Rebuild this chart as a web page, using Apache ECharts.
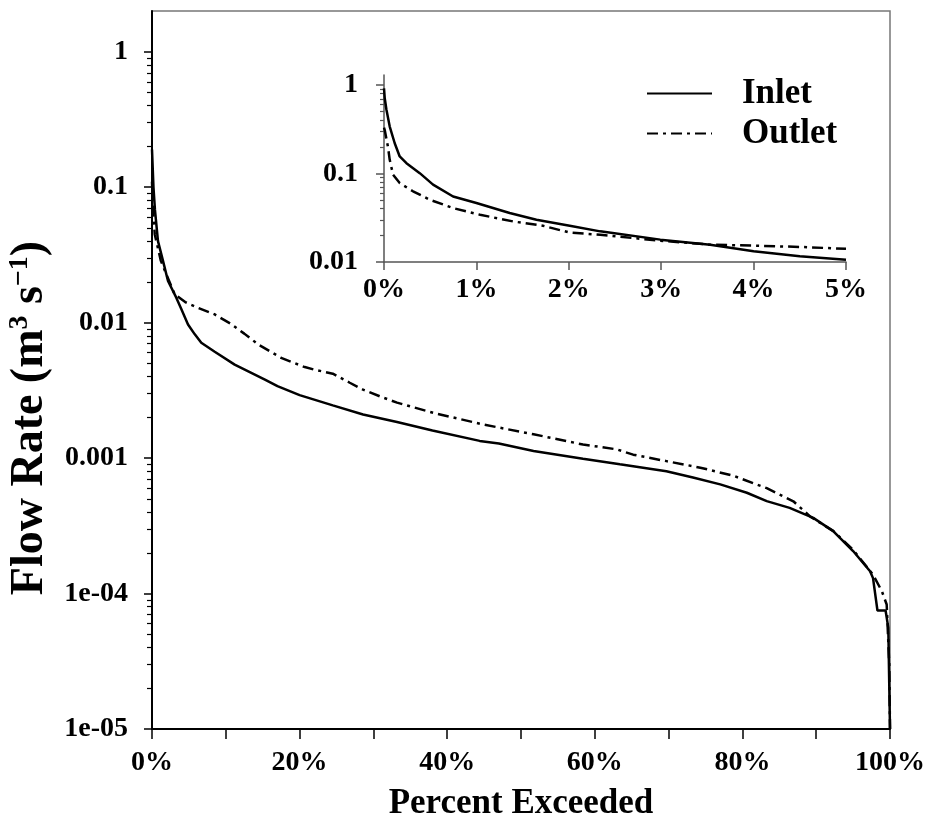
<!DOCTYPE html>
<html>
<head>
<meta charset="utf-8">
<script src="https://cdn.jsdelivr.net/npm/echarts@6/dist/echarts.min.js"></script>
<style>html,body{margin:0;padding:0;background:#fff;}#c{width:930px;height:823px;}</style>
</head>
<body>
<div id="c"></div>
<script>
// ---- Main chart data (percent exceeded, flow rate m3/s) ----
const inletPct = [0, 0.2, 0.4, 0.81, 1.49, 2.17, 3.29, 3.97, 4.88, 5.8, 6.68, 8.5, 11.2, 15.3, 17, 20, 24.5, 28.6, 33.2, 38, 44.4, 47, 51.7, 58.4, 63.4, 69.7, 73.3, 77, 80.6, 83.3, 86.4, 89.6, 92.3, 95, 97.3, 97.7, 98.3, 99.4, 99.77, 99.9, 100];
const inletFlow = [0.19, 0.1, 0.068, 0.040, 0.0286, 0.0203, 0.0153, 0.0126, 0.0097, 0.0082, 0.0071, 0.0061, 0.0049, 0.0038, 0.0034, 0.00292, 0.00245, 0.0021, 0.00185, 0.0016, 0.00134, 0.00128, 0.00113, 0.00099, 0.0009, 0.0008, 0.00072, 0.00064, 0.000555, 0.000481, 0.000429, 0.000362, 0.000289, 0.000206, 0.000146, 0.00013, 0.000075, 0.000075, 0.000056, 0.000021, 0.00001];
const outletPct = [0, 0.14, 0.37, 1.2, 1.94, 3.07, 4.5, 6.2, 8.5, 10.7, 12.5, 14.4, 17.5, 20.7, 22, 24.5, 26.8, 28.6, 31.3, 33.2, 38.1, 44.9, 51.7, 58.4, 63, 65.2, 69.7, 74.3, 78.8, 83.3, 86.9, 89.2, 92.3, 95, 97.7, 98.9, 99.55, 99.9, 100];
const outletFlow = [0.11, 0.07, 0.045, 0.0286, 0.0228, 0.0162, 0.0142, 0.0129, 0.0115, 0.0098, 0.0083, 0.0069, 0.0055, 0.0047, 0.0045, 0.0042, 0.0036, 0.0032, 0.0028, 0.00257, 0.00216, 0.00177, 0.0015, 0.00126, 0.00116, 0.00106, 0.00095, 0.00085, 0.00074, 0.0006, 0.00048, 0.00037, 0.00029, 0.00021, 0.000138, 0.000104, 0.000083, 0.00003, 0.00001];

// ---- Inset data (0-5 %) ----
const insetInletPct = [0, 0.008, 0.026, 0.062, 0.116, 0.17, 0.243, 0.387, 0.531, 0.748, 1.0, 1.36, 1.65, 2.01, 2.34, 2.99, 3.53, 4.0, 4.5, 5.0];
const insetInletFlow = [0.92, 0.71, 0.53, 0.34, 0.22, 0.156, 0.131, 0.101, 0.075, 0.055, 0.0464, 0.0358, 0.0301, 0.0257, 0.0222, 0.0179, 0.0157, 0.0132, 0.0116, 0.0106];
const insetOutletPct = [0, 0.008, 0.043, 0.062, 0.098, 0.17, 0.314, 0.495, 0.748, 1.04, 1.4, 1.72, 2.01, 2.34, 2.99, 3.53, 4.0, 4.5, 5.0];
const insetOutletFlow = [0.33, 0.31, 0.2, 0.143, 0.097, 0.078, 0.063, 0.0506, 0.0407, 0.0342, 0.0287, 0.0257, 0.0215, 0.0203, 0.0174, 0.0157, 0.0153, 0.0148, 0.0141];

// ---- Tick labels ----
const mainYTicks = [1e-5, 1e-4, 1e-3, 1e-2, 1e-1, 1];
const mainYLabels = ['1e-05', '1e-04', '0.001', '0.01', '0.1', '1'];
const insetYTicks = [0.01, 0.1, 1];
const insetYLabels = ['0.01', '0.1', '1'];
const minorMultipliers = [2, 3, 4, 5, 6, 7, 8, 9];

const mainMinor = [];
mainYTicks.slice(0, 5).forEach(d => minorMultipliers.forEach(m => mainMinor.push(+(m * d).toPrecision(3))));
const insetMinor = [];
insetYTicks.slice(0, 2).forEach(d => minorMultipliers.forEach(m => insetMinor.push(+(m * d).toPrecision(3))));

const zip = (a, b) => a.map((v, i) => [v, b[i]]);
const FONT = 'Liberation Serif';
const lab = (size) => ({fontFamily: FONT, fontWeight: 'bold', fontSize: size, color: '#000'});
function labelFor(ticks, labels) {
  return v => {
    for (let i = 0; i < ticks.length; i++) {
      if (Math.abs(Math.log10(v) - Math.log10(ticks[i])) < 1e-6) return labels[i];
    }
    return '';
  };
}
const dashDot = [11, 5, 3, 5];

const chart = echarts.init(document.getElementById('c'), null, {renderer: 'canvas'});
chart.setOption({
  animation: false,
  backgroundColor: '#fff',
  grid: [
    {left: 152, top: 11, width: 738, height: 718, outerBoundsMode: 'none', containLabel: false, show: true, borderColor: '#777', borderWidth: 1.5, backgroundColor: 'transparent'},
    {left: 384, top: 75, width: 462, height: 187, outerBoundsMode: 'none', containLabel: false}
  ],
  legend: {
    data: ['Inlet', 'Outlet'],
    orient: 'vertical',
    left: 641, top: 71,
    itemWidth: 65, itemHeight: 14, itemGap: 5,
    selectedMode: false,
    itemStyle: {opacity: 0},
    textStyle: Object.assign(lab(35), {padding: [0, 0, 0, 25]})
  },
  xAxis: [
    {
      gridIndex: 0, type: 'value', min: 0, max: 100, interval: 10,
      axisLine: {lineStyle: {color: '#000', width: 2}},
      axisTick: {length: 10, lineStyle: {color: '#000', width: 1.5}},
      axisLabel: Object.assign(lab(28), {margin: 20, formatter: v => (v % 20 === 0 ? v + '%' : '')}),
      splitLine: {show: false},
      name: 'Percent Exceeded', nameLocation: 'middle', nameGap: 57,
      nameTextStyle: lab(35)
    },
    {
      gridIndex: 1, type: 'value', min: 0, max: 5, interval: 1,
      axisLine: {lineStyle: {color: '#555', width: 1.5}},
      axisTick: {length: 8, lineStyle: {color: '#555', width: 1.5}},
      axisLabel: Object.assign(lab(28), {margin: 14, formatter: v => v + '%'}),
      splitLine: {show: false}
    }
  ],
  yAxis: [
    {
      gridIndex: 0, type: 'log', logBase: 10, min: 1e-5, max: 2,
      axisLine: {show: true, lineStyle: {color: '#000', width: 2}},
      axisTick: {show: true, length: 8, customValues: mainYTicks, lineStyle: {color: '#000', width: 1.5}},
      axisLabel: Object.assign(lab(28), {margin: 24, customValues: mainYTicks, formatter: labelFor(mainYTicks, mainYLabels)}),
      splitLine: {show: false},
      name: 'Flow Rate (m{sup|3} s{sup|\u22121})', nameLocation: 'middle', nameGap: 88, nameRotate: 90,
      nameTextStyle: Object.assign(lab(46), {padding: [0, 96, 0, 0], rich: {sup: Object.assign(lab(28), {verticalAlign: 'top', padding: [0, 0, 22, 0]})}})
    },
    {
      gridIndex: 0, type: 'log', logBase: 10, min: 1e-5, max: 2, position: 'left',
      axisLine: {show: false},
      axisTick: {show: true, length: 5, customValues: mainMinor, lineStyle: {color: '#000', width: 1.2}},
      axisLabel: {show: false},
      splitLine: {show: false}
    },
    {
      gridIndex: 1, type: 'log', logBase: 10, min: 0.01, max: 1.3,
      axisLine: {show: true, lineStyle: {color: '#555', width: 1.5}},
      axisTick: {show: true, length: 8, customValues: insetYTicks, lineStyle: {color: '#555', width: 1.5}},
      axisLabel: Object.assign(lab(28), {margin: 26, customValues: insetYTicks, formatter: labelFor(insetYTicks, insetYLabels)}),
      splitLine: {show: false}
    },
    {
      gridIndex: 1, type: 'log', logBase: 10, min: 0.01, max: 1.3, position: 'left',
      axisLine: {show: false},
      axisTick: {show: true, length: 4, customValues: insetMinor, lineStyle: {color: '#555', width: 1.2}},
      axisLabel: {show: false},
      splitLine: {show: false}
    }
  ],
  series: [
    {name: 'Inlet', type: 'line', xAxisIndex: 0, yAxisIndex: 0, data: zip(inletPct, inletFlow), symbol: 'none', lineStyle: {color: '#000', width: 2.5, type: 'solid'}, itemStyle: {color: '#000'}},
    {name: 'Outlet', type: 'line', xAxisIndex: 0, yAxisIndex: 0, data: zip(outletPct, outletFlow), symbol: 'none', lineStyle: {color: '#000', width: 2.5, type: dashDot}, itemStyle: {color: '#000'}},
    {name: 'Inlet', type: 'line', xAxisIndex: 1, yAxisIndex: 2, data: zip(insetInletPct, insetInletFlow), symbol: 'none', lineStyle: {color: '#000', width: 2.5, type: 'solid'}, itemStyle: {color: '#000'}},
    {name: 'Outlet', type: 'line', xAxisIndex: 1, yAxisIndex: 2, data: zip(insetOutletPct, insetOutletFlow), symbol: 'none', lineStyle: {color: '#000', width: 2.5, type: dashDot}, itemStyle: {color: '#000'}}
  ]
});
</script>
</body>
</html>
